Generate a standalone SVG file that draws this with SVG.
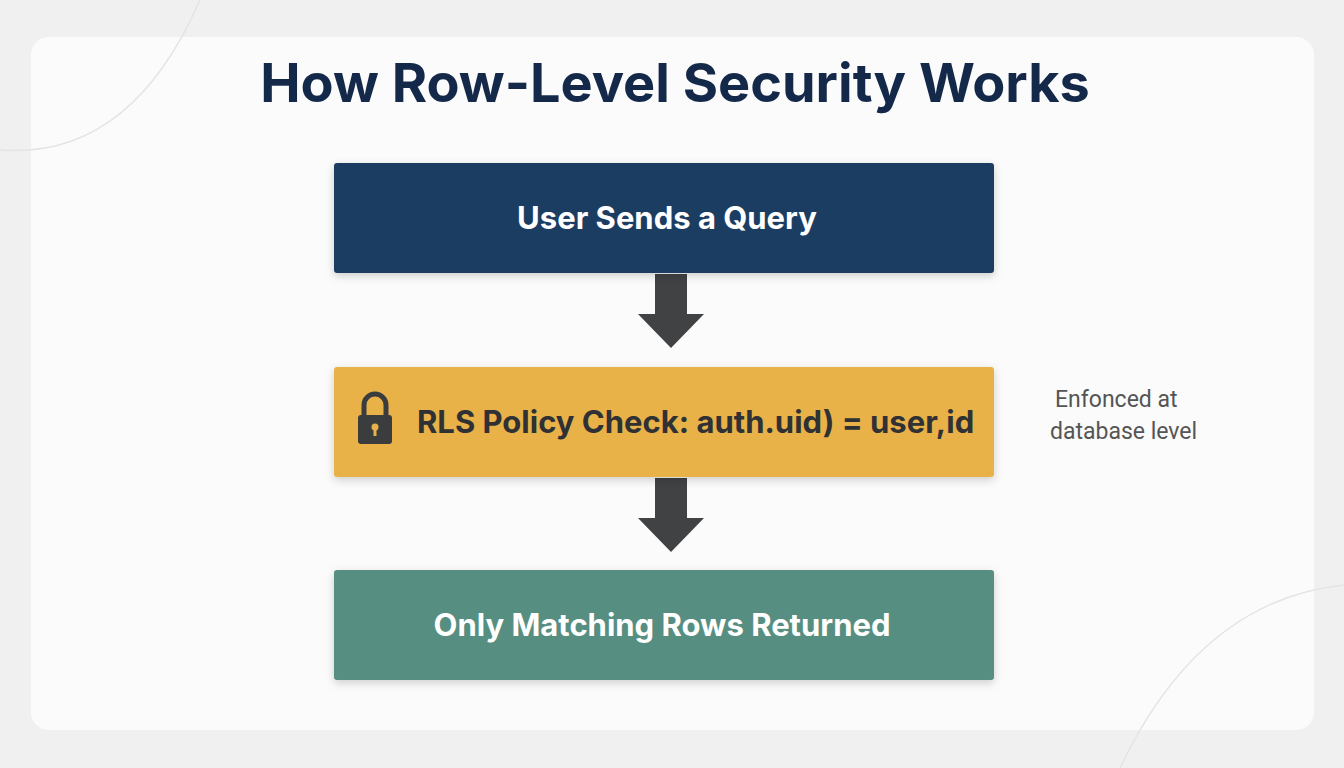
<svg xmlns="http://www.w3.org/2000/svg" width="1344" height="768" viewBox="0 0 1344 768">
<defs>
<style>
.t{font-family:Inter,"Liberation Sans",sans-serif;font-weight:700}
.w{fill:#ffffff;font-size:31px}
.s{fill:#555;font-family:Roboto,"Liberation Sans",sans-serif;font-size:23px}
.arr{fill:#404244}
</style>
<filter id="sh" x="-10%" y="-20%" width="120%" height="150%"><feDropShadow dx="0" dy="3" stdDeviation="4" flood-opacity="0.18"/></filter>
</defs>
<rect width="1344" height="768" fill="#f0f0f0"/>
<rect x="31" y="37" width="1283" height="693" rx="18" fill="#fbfbfb"/>
<path d="M0 150 Q130 160 200 0" fill="none" stroke="#e4e4e4" stroke-width="1.5"/>
<path d="M1120 768 Q1200 600 1344 585" fill="none" stroke="#e4e4e4" stroke-width="1.5"/>
<text class="t" x="675" y="102" text-anchor="middle" font-size="54" fill="#14294a">How Row-Level Security Works</text>
<g id="connectors">
<path class="arr" d="M655 274 H687 V314 H704 L671 348 L638 314 H655 Z"/>
<path class="arr" d="M655 478 H687 V518 H704 L671 552 L638 518 H655 Z"/>
</g>
<g id="n1"><rect x="334" y="163" width="660" height="110" rx="3" fill="#1d3e62" filter="url(#sh)"/>
<text class="t w" x="667" y="229" text-anchor="middle">User Sends a Query</text></g>
<g id="n2"><rect x="334" y="367" width="660" height="110" rx="3" fill="#e8b24a" filter="url(#sh)"/>
<rect x="358" y="415" width="34" height="29" rx="3" fill="#3a3c3e"/>
<path d="M364 416 V405 a11 11 0 0 1 22 0 V416" fill="none" stroke="#3a3c3e" stroke-width="5"/>
<circle cx="375" cy="427" r="3.5" fill="#e8b24a"/><rect x="373.5" y="428" width="3" height="8" fill="#e8b24a"/>
<text class="t" x="417" y="433" font-size="31" fill="#2f3134">RLS Policy Check: auth.uid) = user,id</text></g>
<g id="n3"><rect x="334" y="570" width="660" height="110" rx="3" fill="#568f82" filter="url(#sh)"/>
<text class="t w" x="662" y="636" text-anchor="middle">Only Matching Rows Returned</text></g>
<g id="note"><text class="s" x="1055" y="407">Enfonced at</text><text class="s" x="1050" y="439">database level</text></g>
</svg>
